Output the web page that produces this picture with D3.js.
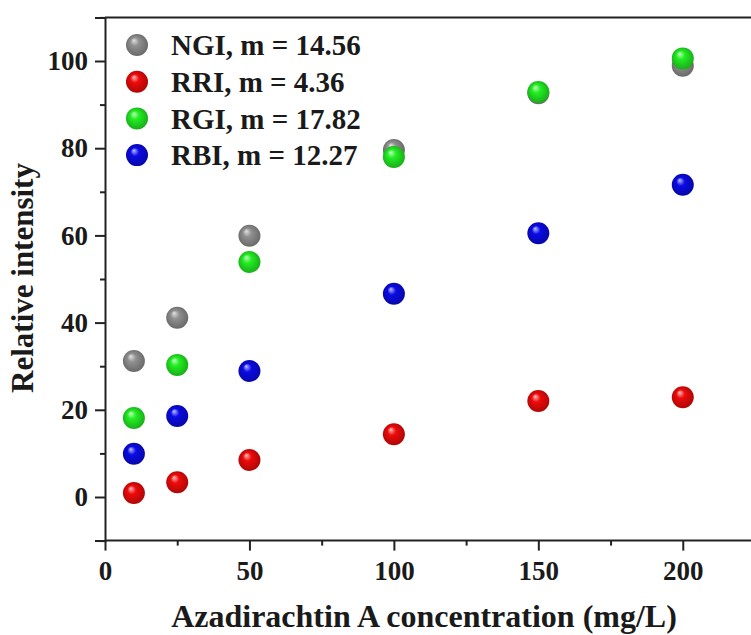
<!DOCTYPE html>
<html>
<head>
<meta charset="utf-8">
<script src="https://cdn.jsdelivr.net/npm/d3@7"></script>
<style>
  body { margin: 0; background: #fff; }
  svg { display: block; font-family: "Liberation Serif", "Times New Roman", serif; font-weight: bold; }
</style>
</head>
<body>
<svg id="chart" width="751" height="635"></svg>
<script>
// concentrations (mg/L)
var conc = [10, 25, 50, 100, 150, 200];
// relative intensity per channel
var ngi = [31.2, 41.1, 59.9, 79.6, 92.6, 98.9];
var rri = [0.9, 3.4, 8.5, 14.4, 22.0, 22.9];
var rgi = [18.1, 30.3, 53.9, 78.0, 92.9, 100.6];
var rbi = [9.9, 18.6, 28.9, 46.6, 60.5, 71.6];

var seriesNames = ["NGI, m = 14.56", "RRI, m = 4.36", "RGI, m = 17.82", "RBI, m = 12.27"];
var seriesColors = ["#909090", "#ee0a0a", "#22ee22", "#0a0ae6"];
var seriesData = [ngi, rri, rgi, rbi];

var xTicks = [0, 50, 100, 150, 200];
var xMinorTicks = [25, 75, 125, 175, 225];
var yTicks = [0, 20, 40, 60, 80, 100];
var yMinorTicks = [-10, 10, 30, 50, 70, 90, 110];

var svg = d3.select("#chart");

var x = d3.scaleLinear().domain([0, 225]).range([105, 755]);
var y = d3.scaleLinear().domain([-10, 110]).range([540.6, 17.4]);

// sphere gradients
var defs = svg.append("defs");
seriesColors.forEach(function(c, i) {
  var g = defs.append("radialGradient")
    .attr("id", "ball" + i)
    .attr("cx", "50%").attr("cy", "50%").attr("r", "55%")
    .attr("fx", "35%").attr("fy", "28%");
  g.append("stop").attr("offset", "0%").attr("stop-color", d3.interpolateRgb(c, "#fff")(0.75));
  g.append("stop").attr("offset", "35%").attr("stop-color", c);
  g.append("stop").attr("offset", "100%").attr("stop-color", d3.color(c).darker(1.0));
});

// top frame line
svg.append("line")
  .attr("x1", x(0)).attr("x2", 751)
  .attr("y1", y(110)).attr("y2", y(110))
  .attr("stroke", "#222").attr("stroke-width", 2);

// axes
var xAxis = svg.append("g")
  .attr("transform", "translate(0," + y(-10) + ")")
  .call(d3.axisBottom(x).tickValues(xTicks).tickSize(10).tickPadding(10));
var xMinor = svg.append("g")
  .attr("transform", "translate(0," + y(-10) + ")")
  .call(d3.axisBottom(x).tickValues(xMinorTicks).tickSize(5).tickFormat(""));

var yAxis = svg.append("g")
  .attr("transform", "translate(" + x(0) + ",0)")
  .call(d3.axisLeft(y).tickValues(yTicks).tickSize(10).tickPadding(7));
var yMinor = svg.append("g")
  .attr("transform", "translate(" + x(0) + ",0)")
  .call(d3.axisLeft(y).tickValues(yMinorTicks).tickSize(5).tickFormat(""));

[xAxis, xMinor, yAxis, yMinor].forEach(function(a) {
  a.select(".domain").attr("stroke", "#222").attr("stroke-width", 2);
  a.selectAll(".tick line").attr("stroke", "#222").attr("stroke-width", 2);
  a.selectAll("text")
    .attr("font-family", "Liberation Serif, Times New Roman, serif")
    .attr("font-weight", "bold")
    .attr("font-size", 27)
    .attr("fill", "#1a1a1a");
});
// run the x axis line to the right edge
xAxis.select(".domain").attr("d", "M" + x(0) + ",0H751");
xMinor.select(".domain").remove();
yMinor.select(".domain").remove();

// axis titles
svg.append("text")
  .attr("x", 424).attr("y", 627)
  .attr("text-anchor", "middle")
  .attr("font-size", 32)
  .attr("fill", "#1a1a1a")
  .text("Azadirachtin A concentration (mg/L)");

svg.append("text")
  .attr("transform", "translate(33,278) rotate(-90)")
  .attr("text-anchor", "middle")
  .attr("font-size", 31)
  .attr("fill", "#1a1a1a")
  .text("Relative intensity");

// points
seriesData.forEach(function(vals, i) {
  svg.append("g")
    .selectAll("circle")
    .data(vals)
    .enter().append("circle")
      .attr("cx", function(d, j) { return x(conc[j]); })
      .attr("cy", function(d) { return y(d); })
      .attr("r", 11)
      .attr("fill", "url(#ball" + i + ")");
});

// legend
var legend = svg.append("g")
  .selectAll("g")
  .data(seriesNames)
  .enter().append("g")
    .attr("transform", function(d, i) { return "translate(137," + (45 + i * 36.7) + ")"; });

legend.append("circle")
  .attr("r", 11)
  .attr("fill", function(d, i) { return "url(#ball" + i + ")"; });

legend.append("text")
  .attr("x", 34)
  .attr("dy", "0.35em")
  .attr("font-size", 29)
  .attr("fill", "#1a1a1a")
  .text(function(d) { return d; });
</script>
</body>
</html>
